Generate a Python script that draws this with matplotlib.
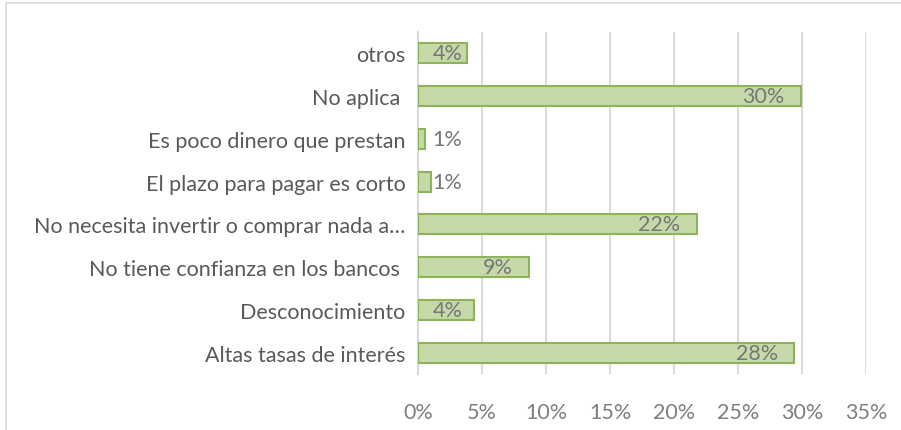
import matplotlib.pyplot as plt
from matplotlib.patches import Rectangle

# -----------------------------
# Data (bottom to top)
# -----------------------------
categorias = [
    "Altas tasas de interés",
    "Desconocimiento",
    "No tiene confianza en los bancos ",
    "No necesita invertir o comprar nada a…",
    "El plazo para pagar es corto",
    "Es poco dinero que prestan",
    "No aplica ",
    "otros",
]
valores = [29.4, 4.35, 8.7, 21.8, 1.0, 0.55, 29.9, 3.8]
etiquetas = ["28%", "4%", "9%", "22%", "1%", "1%", "30%", "4%"]
ticks = [0, 5, 10, 15, 20, 25, 30, 35]

plt.rcParams['font.family'] = ['Lato', 'DejaVu Sans']
FS = 15.5

fig = plt.figure(figsize=(9.01, 4.31), dpi=100)
ax = fig.add_axes([418 / 901, 1 - 375 / 431, 448 / 901, 342 / 431])

# outer chart frame (partly visible)
fig.patches.append(Rectangle((6 / 901, -0.1), 1.2, (431 - 4) / 431 + 0.1,
                             transform=fig.transFigure, fill=False,
                             edgecolor="#d9d9d9", linewidth=1.2))

y = range(len(categorias))
ax.barh(y, valores, height=0.47, color="#c6d9a9", edgecolor="#8fb35a",
        linewidth=1.5, zorder=3)

# data labels: short bars get the label near the axis, others inside end
for i, (v, lab) in enumerate(zip(valores, etiquetas)):
    if v < 5:
        ax.text(1.15, i, lab, va="center", ha="left", fontsize=FS,
                color="#767676", zorder=4)
    else:
        ax.text(v - 1.3, i, lab, va="center", ha="right", fontsize=FS,
                color="#767676", zorder=4)

ax.set_xlim(0, 35)
ax.set_ylim(-0.5, len(categorias) - 0.5)
ax.set_xticks(ticks)
ax.set_xticklabels([f"{t}%" for t in ticks])
ax.set_yticks(list(y))
ax.set_yticklabels(categorias)

ax.grid(axis="x", color="#d9d9d9", linewidth=1.5, zorder=0)
ax.set_axisbelow(True)
for s in ["top", "right", "bottom"]:
    ax.spines[s].set_visible(False)
ax.spines["left"].set_color("#d9d9d9")
ax.spines["left"].set_linewidth(1.5)

ax.tick_params(axis="both", length=0, labelsize=FS, labelcolor="#595959")
ax.tick_params(axis="x", pad=20, labelcolor="#7f7f7f")
ax.tick_params(axis="y", pad=9)

fig.savefig("out.png", dpi=100)
